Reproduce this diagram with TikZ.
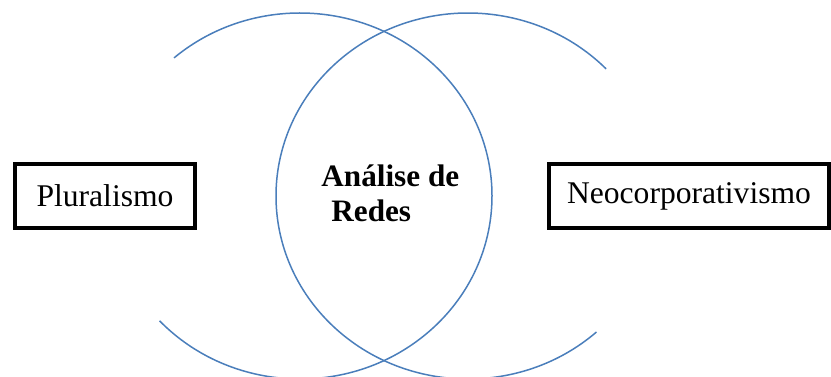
\documentclass[tikz,border=0pt]{standalone}
\usepackage{fontspec}
\setmainfont{Liberation Serif}
\usepackage{xcolor}
\usepackage{tikz}
\usetikzlibrary{positioning}

\definecolor{arcblue}{RGB}{74,126,187}

\begin{document}
\begin{tikzpicture}[
    x=0.5pt, y=0.5pt,
    approach/.style={draw, line width=2pt, minimum height=64*0.5pt, inner sep=0pt, font=\fontsize{15.8}{17.5}\selectfont},
    focus/.style={align=left, inner sep=0pt, font=\fontsize{15.6}{17.5}\selectfont\bfseries},
    ring/.style={draw=arcblue, line width=0.75pt},
]
\useasboundingbox (0,0) rectangle (831,376);

% --- Open circles ---
\coordinate (cl) at (300,180);
\coordinate (cr) at (468,180);
\draw[ring] (cl) ++(131:192 and 183) arc[start angle=131, end angle=-137, x radius=192, y radius=183];
\draw[ring] (cr) ++(44:192 and 183) arc[start angle=44, end angle=312, x radius=192, y radius=183];

% --- Boxes on both sides ---
\node[approach, minimum width=180*0.5pt] (plural) at (105,180.5) {Pluralismo};
\node[approach, minimum width=280*0.5pt] (neocorp) at (689,180) {Neocorporativismo};

% --- Text in the overlap ---
\node[focus, anchor=north west] (redes) at (321,212) {Análise de\\\hspace*{5pt}Redes};

\end{tikzpicture}
\end{document}
